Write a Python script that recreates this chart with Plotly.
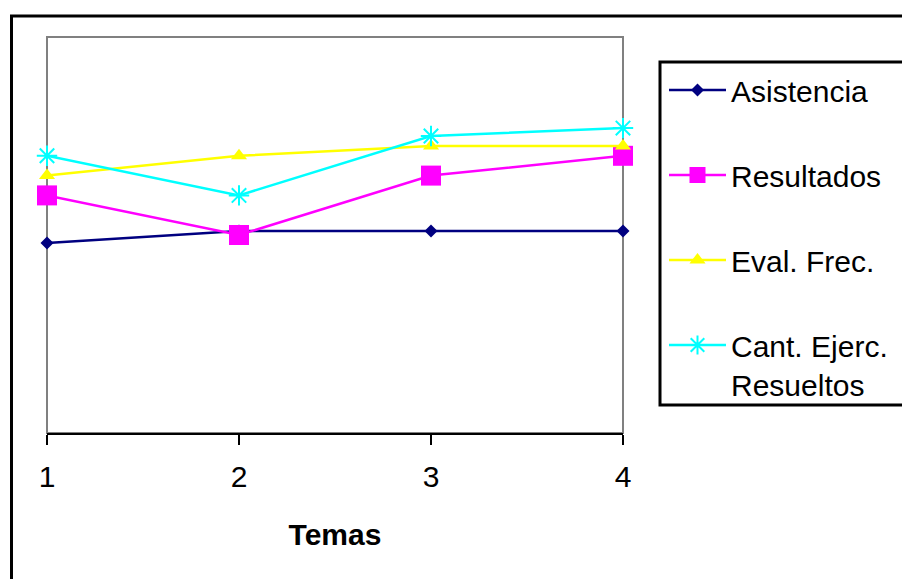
import plotly.graph_objects as go

temas = [1, 2, 3, 4]
asistencia = [4.8, 5.1, 5.1, 5.1]
resultados = [6.0, 5.0, 6.5, 7.0]
eval_frec = [6.5, 7.0, 7.25, 7.25]
cant_ejerc = [7.0, 6.0, 7.5, 7.7]

names = ["Asistencia", "Resultados", "Eval. Frec.", "Cant. Ejerc.<br>Resueltos"]
FONT = "Liberation Sans, Arial, sans-serif"

W, H = 902, 579
L, R, T, B = 47, 902 - 623, 37, 579 - 433
pw, ph = W - L - R, H - T - B

def px(x):
    return (x - L) / pw

def py(y):
    return (H - B - y) / ph

fig = go.Figure()
series = [
    (asistencia, names[0], "#000080", dict(symbol="diamond", size=10, color="#000080")),
    (resultados, names[1], "#FF00FF", dict(symbol="square", size=20, color="#FF00FF")),
    (eval_frec, names[2], "#FFFF00", dict(symbol="triangle-up", size=14, color="#FFFF00")),
    (cant_ejerc, names[3], "#00FFFF", dict(symbol="asterisk-open", size=17,
                                           line=dict(color="#00FFFF", width=2))),
]
for i, (vals, name, col, mk) in enumerate(series):
    fig.add_trace(go.Scatter(
        x=temas, y=vals, name=name, mode="lines+markers",
        line=dict(color=col, width=2.5), marker=mk, cliponaxis=False,
        legendgroup=str(i),
    ))

fig.update_layout(
    width=W, height=H,
    margin=dict(l=L, r=R, t=T, b=B, autoexpand=False),
    paper_bgcolor="white", plot_bgcolor="white",
    font=dict(family=FONT, size=30, color="black"),
    showlegend=True,
    legend=dict(
        x=px(664), y=py(64), xanchor="left", yanchor="top",
        bgcolor="rgba(0,0,0,0)", borderwidth=0,
        font=dict(family=FONT, size=30, color="black"),
        traceorder="grouped", tracegroupgap=43, valign="top",
        itemwidth=57,
    ),
    xaxis=dict(
        range=[1, 4], tickvals=temas, ticktext=[str(t) for t in temas],
        showgrid=False, zeroline=False,
        showline=True, linecolor="black", linewidth=2,
        ticks="outside", ticklen=10, tickwidth=2, tickcolor="black",
        tickfont=dict(family=FONT, size=30, color="black"),
        ticklabelstandoff=6,
        title=dict(text="<b>Temas</b>", standoff=32,
                   font=dict(family=FONT, size=30, color="black")),
    ),
    yaxis=dict(range=[0, 10], visible=False, showgrid=False, zeroline=False),
    shapes=[
        dict(type="rect", xref="paper", yref="paper", x0=0, x1=1, y0=0, y1=1,
             line=dict(color="#808080", width=2), layer="below"),
        dict(type="rect", xref="paper", yref="paper",
             x0=px(11.5), x1=px(920), y0=py(600), y1=py(16),
             line=dict(color="black", width=3), layer="below"),
        dict(type="rect", xref="paper", yref="paper",
             x0=px(660), x1=px(920), y0=py(405), y1=py(62),
             line=dict(color="black", width=3), fillcolor="white", layer="below"),
    ],
)

fig.write_html("out.html")
